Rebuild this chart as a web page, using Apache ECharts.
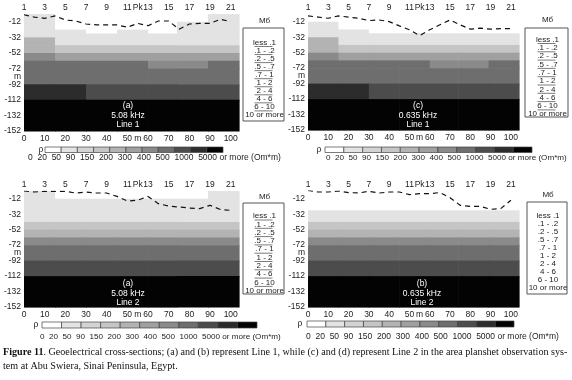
<!DOCTYPE html>
<html>
<head>
<meta charset="utf-8">
<script src="https://cdn.jsdelivr.net/npm/echarts@6/dist/echarts.min.js"></script>
<style>
  html, body { margin: 0; padding: 0; background: #fff; }
  #chart { width: 572px; height: 380px; }
</style>
</head>
<body>
<div id="chart"></div>
<script>
// pickets along the profile, 5 m apart
const pickets = [1, 2, 3, 4, 5, 6, 7, 8, 9, 10, 11, 12, 13, 14, 15, 16, 17, 18, 19, 20, 21]
const picketStep = 5

// model blocks: column edges (m) and layer edges (depth, m)
const colEdges = [0, 15, 30, 45, 60, 74, 89, 104]
const rowEdges = [-2, -12, -17, -22, -27, -32, -42, -52, -62, -72, -92, -112, -152]

// resistivity class of each block, rows top -> bottom, 7 columns
const cellsA = [
  [1, 0, 0, 0, 0, 0, 1],
  [1, 0, 0, 0, 0, 1, 1],
  [1, 0, 0, 0, 0, 1, 1],
  [1, 1, 0, 1, 0, 1, 1],
  [1, 1, 1, 1, 1, 1, 1],
  [4, 1, 1, 1, 1, 1, 1],
  [4, 3, 3, 3, 3, 3, 3],
  [6, 5, 5, 5, 5, 5, 5],
  [7, 7, 7, 7, 6, 6, 7],
  [7, 7, 7, 7, 7, 7, 7],
  [9, 9, 8, 8, 8, 8, 8],
  [10, 10, 10, 10, 10, 10, 10],
]
const cellsC = [
  [0, 0, 0, 0, 0, 0, 0],
  [1, 0, 0, 0, 0, 0, 0],
  [1, 0, 0, 0, 0, 0, 0],
  [1, 1, 0, 0, 0, 0, 0],
  [1, 1, 1, 1, 1, 1, 1],
  [4, 1, 1, 1, 1, 1, 1],
  [4, 3, 3, 3, 3, 3, 3],
  [6, 5, 5, 5, 5, 5, 5],
  [7, 7, 7, 7, 6, 6, 7],
  [7, 7, 7, 7, 7, 7, 7],
  [9, 9, 8, 8, 8, 8, 8],
  [10, 10, 10, 10, 10, 10, 10],
]
const cellsB = [
  [1, 0, 0, 0, 0, 0, 1],
  [1, 1, 1, 1, 1, 1, 1],
  [1, 1, 1, 1, 1, 1, 1],
  [1, 1, 1, 1, 1, 1, 1],
  [1, 1, 1, 1, 1, 1, 1],
  [1, 1, 1, 1, 1, 1, 1],
  [3, 3, 3, 3, 3, 3, 3],
  [4, 4, 4, 4, 4, 4, 4],
  [6, 6, 6, 6, 6, 6, 6],
  [7, 7, 7, 7, 7, 7, 7],
  [8, 8, 8, 8, 8, 8, 8],
  [10, 10, 10, 10, 10, 10, 10],
]
const cellsD = [
  [0, 0, 0, 0, 0, 0, 0],
  [0, 0, 0, 0, 0, 0, 0],
  [0, 0, 0, 0, 0, 0, 0],
  [0, 0, 0, 0, 0, 0, 0],
  [1, 1, 1, 1, 1, 1, 1],
  [1, 1, 1, 1, 1, 1, 1],
  [3, 3, 3, 3, 3, 3, 3],
  [4, 4, 4, 4, 4, 4, 4],
  [6, 6, 6, 6, 6, 6, 6],
  [7, 7, 7, 7, 7, 7, 7],
  [8, 8, 8, 8, 8, 8, 8],
  [10, 10, 10, 10, 10, 10, 10],
]

// dashed Mб line, depth at each picket
const lineA = [-3, -6, -7.5, -4.5, -9.7, -11, -14.8, -16, -16, -16, -19, -14, -17, -11, -11, -21.6, -14.8, -14, -14, -8.8, -11.8]
const lineC = [-4.5, -6, -7.5, -4.5, -6, -7.5, -10.5, -9.7, -11.8, -17.3, -22.4, -30, -22.4, -16, -9.7, -16, -21.6, -20.3, -21.6, -21, -21]
const lineB = [-2, -3.3, -2.4, -2.4, -2.5, -4.6, -3.3, -4.6, -4.6, -9, -15, -14, -9, -18.4, -21.4, -22.7, -24, -24.8, -20.5, -26, -27]
const lineD = [-1.1, -3.3, -3.3, -2, -4, -4.6, -2.4, -4.6, -3.3, -3.3, -6.7, -5.4, -5.4, -4, -10.6, -20.5, -21.8, -21.8, -25.7, -24.8, -14]

const rhoLabels = ['0', '20', '50', '90', '150', '200', '300', '400', '500', '1000', '5000 or more (Om*m)']
const mbLabels = ['less .1', '.1 - .2', '.2 - .5', '.5 - .7', '.7 - 1', '1 - 2', '2 - 4', '4 - 6', '6 - 10', '10 or more']
const panelNotes = [
  ['(a)', '5.08 kHz', 'Line 1'],
  ['(c)', '0.635 kHz', 'Line 1'],
  ['(a)', '5.08 kHz', 'Line 2'],
  ['(b)', '0.635 kHz', 'Line 2'],
]

const shades = ['#ffffff', '#e3e3e3', '#d3d3d3', '#c5c5c5', '#b3b3b3', '#a0a0a0', '#8a8a8a', '#6e6e6e', '#4c4c4c', '#2c2c2c', '#030303']
const font = 'Liberation Sans'
const textColor = '#222'

const panels = [
  { cells: cellsA, line: lineA, grid: { left: 24, top: 14, width: 215, height: 117 },
    note: [128, 106], box: [243, 28, 41, 93], items: 42.5, step: 8.05, title: 21,
    bar: [45, 147, 178, 5.5], rho: [41, 149.5], labels: [28, 158], labelSize: 8.5 },
  { cells: cellsC, line: lineC, grid: { left: 308, top: 14, width: 211, height: 116 },
    note: [418, 106], box: [525, 28, 43, 89], items: 39.5, step: 8.3, title: 20,
    bar: [325, 147, 207, 5.5], rho: [319, 149.5], labels: [326, 158], labelSize: 8.1 },
  { cells: cellsB, line: lineB, grid: { left: 24, top: 191, width: 215, height: 116 },
    note: [128, 284], box: [243, 203, 41, 91], items: 216, step: 8.3, title: 197,
    bar: [42, 322, 215, 6], rho: [36, 325], labels: [40, 337], labelSize: 8.1 },
  { cells: cellsD, line: lineD, grid: { left: 308, top: 191, width: 211, height: 116 },
    note: [422, 284], box: [527, 202, 40, 92], items: 216, step: 8.0, title: 195,
    bar: [307, 321, 207, 6], rho: [300, 324], labels: [306, 337], labelSize: 8.5 },
]

function blocks(cells) {
  const out = []
  cells.forEach((row, r) => {
    row.forEach((cls, c) => {
      out.push([colEdges[c], colEdges[c + 1], rowEdges[r], rowEdges[r + 1], cls])
    })
  })
  return out
}

function renderBlock(params, api) {
  const p0 = api.coord([api.value(0), api.value(2)])
  const p1 = api.coord([api.value(1), api.value(3)])
  return {
    type: 'rect',
    shape: { x: p0[0], y: p0[1], width: p1[0] - p0[0] + 0.6, height: p1[1] - p0[1] + 0.6 },
    style: { fill: shades[api.value(4)] },
  }
}

const labelStyle = { color: textColor, fontFamily: font, fontSize: 8.5 }

const grids = []
const xAxes = []
const yAxes = []
const series = []
const graphics = []

panels.forEach((p, i) => {
  grids.push(p.grid)
  xAxes.push({
    type: 'value', gridIndex: i, position: 'bottom', min: 0, max: 104, interval: 5,
    axisLine: { show: false }, axisTick: { show: false }, splitLine: { show: false },
    axisLabel: {
      ...labelStyle, margin: 3, showMaxLabel: false,
      formatter: v => (v === 55 ? 'm' : v % 10 === 0 && v <= 100 ? String(v) : ''),
    },
  })
  xAxes.push({
    type: 'value', gridIndex: i, position: 'top', min: 0, max: 104, interval: 5,
    axisLine: { show: false }, axisTick: { show: false }, splitLine: { show: false },
    axisLabel: {
      ...labelStyle, margin: 2, showMaxLabel: false,
      formatter: v => (v === 55 ? 'Pk' : v % 10 === 0 && v <= 100 ? String(v / picketStep + 1) : ''),
    },
  })
  yAxes.push({
    type: 'value', gridIndex: i, min: -152, max: -2, interval: 10,
    axisLine: { show: false }, axisTick: { show: false }, splitLine: { show: false },
    axisLabel: {
      ...labelStyle, margin: 3, lineHeight: 8,
      formatter: v => (v === -82 ? 'm' : (v + 152) % 20 === 0 ? String(v) : ''),
    },
  })
  series.push({
    type: 'custom', xAxisIndex: 2 * i, yAxisIndex: i,
    encode: { x: [0, 1], y: [2, 3] },
    renderItem: renderBlock, data: blocks(p.cells), silent: true,
  })
  series.push({
    type: 'line', xAxisIndex: 2 * i, yAxisIndex: i, z: 5,
    data: pickets.map((pk, k) => [(pk - 1) * picketStep, p.line[k]]),
    symbol: 'none', silent: true,
    lineStyle: { color: '#111', width: 1.2, type: [5, 4] },
  })

  // white notes inside the section
  panelNotes[i].forEach((t, k) => {
    graphics.push({
      type: 'text', x: p.note[0], y: p.note[1] + k * 9.3, z: 10,
      style: { text: t, fill: '#fff', font: `8.5px "${font}"`, align: 'center', verticalAlign: 'middle' },
    })
  })

  // Mб legend box
  const [bx, by, bw, bh] = p.box
  graphics.push({
    type: 'rect', shape: { x: bx, y: by, width: bw, height: bh },
    style: { fill: '#fff', stroke: '#555', lineWidth: 1 },
  })
  graphics.push({
    type: 'text', x: bx + bw / 2 + 1, y: p.title,
    style: { text: 'Mб', fill: textColor, font: `8px "${font}"`, align: 'center', verticalAlign: 'middle' },
  })
  mbLabels.forEach((t, k) => {
    graphics.push({
      type: 'text', x: bx + bw / 2 + 1, y: p.items + k * p.step,
      style: { text: t, fill: textColor, font: `8px "${font}"`, align: 'center', verticalAlign: 'middle' },
    })
    if (i !== 3 && k < 9) {
      graphics.push({
        type: 'line',
        shape: { x1: bx + bw / 2 - 9, y1: p.items + k * p.step + 4, x2: bx + bw / 2 + 9, y2: p.items + k * p.step + 4 },
        style: { stroke: '#444', lineWidth: 0.7 },
      })
    }
  })

  // resistivity scale bar
  const [cx, cy, cw, ch] = p.bar
  const boxW = cw / shades.length
  shades.forEach((s, k) => {
    graphics.push({
      type: 'rect', shape: { x: cx + k * boxW, y: cy, width: boxW, height: ch },
      style: { fill: s, stroke: '#444', lineWidth: 0.7 },
    })
  })
  graphics.push({
    type: 'text', x: p.rho[0], y: p.rho[1],
    style: { text: 'ρ', fill: textColor, font: `8.5px "${font}"`, align: 'center', verticalAlign: 'middle' },
  })
  graphics.push({
    type: 'text', x: p.labels[0], y: p.labels[1],
    style: { text: rhoLabels.join('  '), fill: textColor, font: `${p.labelSize}px "${font}"`, align: 'left', verticalAlign: 'middle' },
  })
})

graphics.push({
  type: 'text', x: 3, y: 352,
  style: {
    text: '{b|Figure 11}. Geoelectrical cross-sections; (a) and (b) represent Line 1, while (c) and (d) represent Line 2 in the area planshet observation sys-',
    fill: '#111', font: '10.1px "Liberation Serif"', verticalAlign: 'middle',
    rich: { b: { fontWeight: 'bold', fontFamily: 'Liberation Serif', fontSize: 10.1, fill: '#111' } },
  },
})
graphics.push({
  type: 'text', x: 3, y: 366,
  style: { text: 'tem at Abu Swiera, Sinai Peninsula, Egypt.', fill: '#111', font: '10.1px "Liberation Serif"', verticalAlign: 'middle' },
})

const chart = echarts.init(document.getElementById('chart'))
chart.setOption({
  animation: false,
  backgroundColor: '#fff',
  grid: grids,
  xAxis: xAxes,
  yAxis: yAxes,
  series: series,
  graphic: graphics,
})
</script>
</body>
</html>
